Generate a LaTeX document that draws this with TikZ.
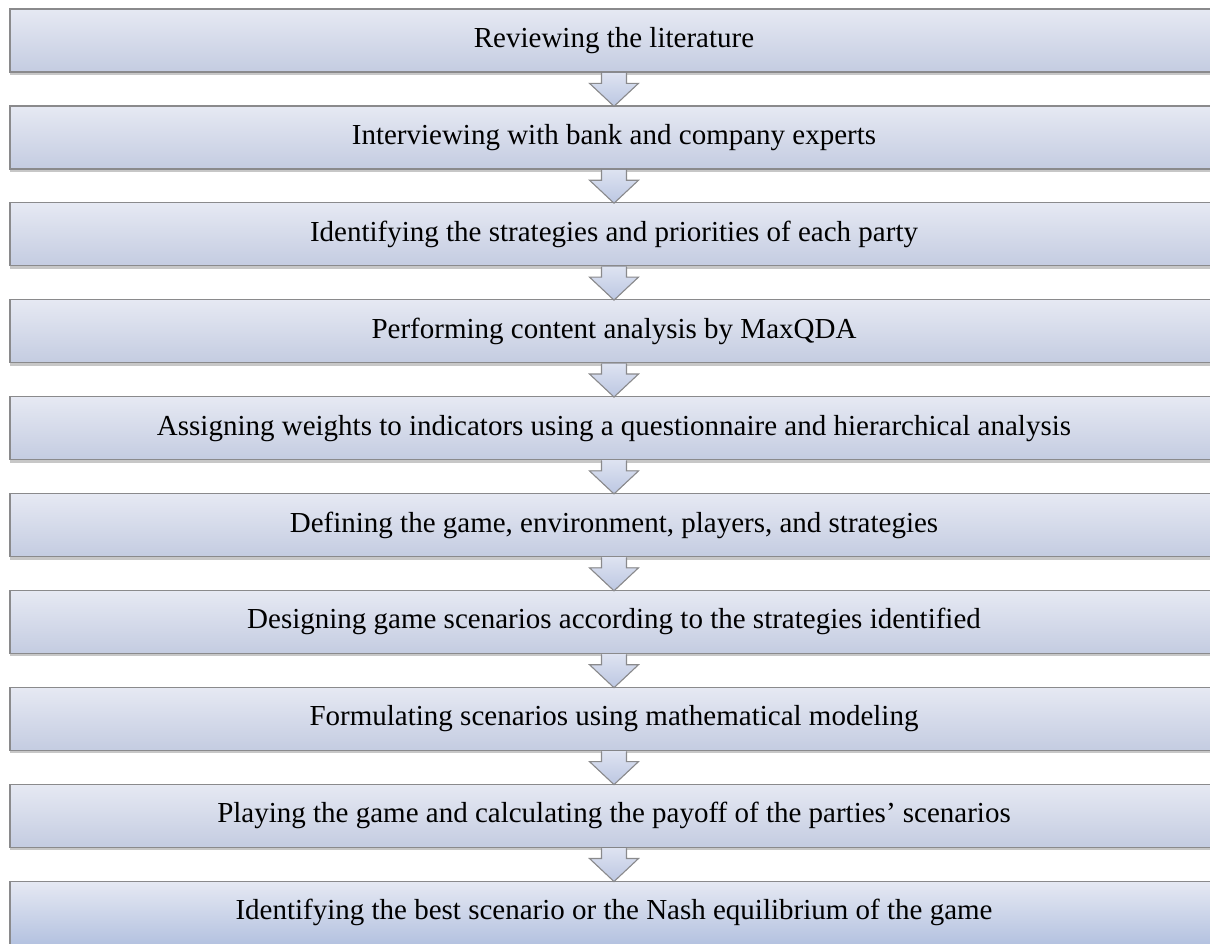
\documentclass[tikz,border=0pt]{standalone}
\usepackage{fontspec}
\setmainfont{Liberation Serif}
\usetikzlibrary{calc,shadows}
\definecolor{boxtop}{RGB}{230,233,243}
\definecolor{boxbot}{RGB}{196,204,225}
\definecolor{lastbot}{RGB}{180,194,224}
\definecolor{arrtop}{RGB}{222,227,241}
\definecolor{arrbot}{RGB}{188,199,226}
\definecolor{edge}{RGB}{138,138,140}
\tikzset{
  stepbox/.style={rectangle, draw=edge, line width=1.2pt,
    top color=boxtop, bottom color=boxbot,
    minimum width=1208pt, minimum height=63pt, inner sep=0pt,
    font=\fontsize{29}{34}\selectfont,
    drop shadow={shadow xshift=0pt,shadow yshift=-3pt,fill=black,opacity=0.22}},
  arrfill/.style={top color=arrtop, bottom color=arrbot, draw=none},
  arredge/.style={draw=edge, line width=1.1pt, line join=miter}
}
\newcommand\flowarrow[2]{%
  \fill[arrfill] ($(#1.south)+(-12.5,0)$) -- ($(#1.south)+(-12.5,10.7)$) -- ($(#1.south)+(-24.5,10.7)$)
    -- ($(#2.north)+(0,1)$) -- ($(#1.south)+(24.5,10.7)$) -- ($(#1.south)+(12.5,10.7)$) -- ($(#1.south)+(12.5,0)$) -- cycle;
  \draw[arredge] ($(#1.south)+(-12.5,0.6)$) -- ($(#1.south)+(-12.5,10.7)$) -- ($(#1.south)+(-24.5,10.7)$)
    -- ($(#2.north)+(0,1)$) -- ($(#1.south)+(24.5,10.7)$) -- ($(#1.south)+(12.5,10.7)$) -- ($(#1.south)+(12.5,0.6)$);
}
\begin{document}
\begin{tikzpicture}[x=1pt,y=-1pt]
\useasboundingbox[fill=white] (0,0) rectangle (1210,943);
\node[stepbox] (s1) at (614,40.5) {Reviewing the literature};
\node[stepbox] (s2) at (614,137.4) {Interviewing with bank and company experts};
\node[stepbox] (s3) at (614,234.3) {Identifying the strategies and priorities of each party};
\node[stepbox] (s4) at (614,331.2) {Performing content analysis by MaxQDA};
\node[stepbox] (s5) at (614,428.1) {Assigning weights to indicators using a questionnaire and hierarchical analysis};
\node[stepbox] (s6) at (614,525.0) {Defining the game, environment, players, and strategies};
\node[stepbox] (s7) at (614,621.9) {Designing game scenarios according to the strategies identified};
\node[stepbox] (s8) at (614,718.8) {Formulating scenarios using mathematical modeling};
\node[stepbox] (s9) at (614,815.7) {Playing the game and calculating the payoff of the parties’ scenarios};
\node[stepbox, bottom color=lastbot] (s10) at (614,912.6) {Identifying the best scenario or the Nash equilibrium of the game};
\flowarrow{s1}{s2}
\flowarrow{s2}{s3}
\flowarrow{s3}{s4}
\flowarrow{s4}{s5}
\flowarrow{s5}{s6}
\flowarrow{s6}{s7}
\flowarrow{s7}{s8}
\flowarrow{s8}{s9}
\flowarrow{s9}{s10}
\end{tikzpicture}
\end{document}
